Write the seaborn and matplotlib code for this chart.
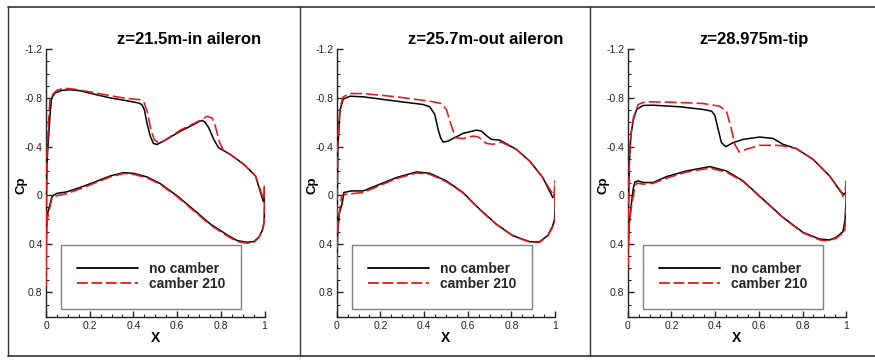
import matplotlib
matplotlib.use("Agg")
import matplotlib.pyplot as plt
import seaborn as sns
import pandas as pd
from matplotlib.lines import Line2D
from matplotlib.patches import Rectangle
from matplotlib.ticker import MultipleLocator, FuncFormatter

# ---------------- data (x/c, Cp), each curve: upper LE->TE, then lower TE->LE ----------------
TITLES = ["z=21.5m-in aileron", "z=25.7m-out aileron", "z=28.975m-tip"]
SERIES = ["no camber", "camber 210"]

P1_NC_X = [0.0, 0.002, 0.004, 0.011, 0.02, 0.026, 0.041, 0.072, 0.11, 0.156, 0.217, 0.294, 0.37, 0.424, 0.439,
           0.45, 0.462, 0.477, 0.492, 0.508, 0.538, 0.615, 0.676, 0.70, 0.715, 0.728, 0.745, 0.768, 0.79, 0.844,
           0.905, 0.959, 0.994, 1.0,
           1.0, 0.998, 0.99, 0.974, 0.951, 0.92, 0.875, 0.829, 0.752, 0.676, 0.6, 0.523, 0.462, 0.4, 0.355, 0.294,
           0.217, 0.156, 0.095, 0.049, 0.035, 0.026, 0.015, 0.006, 0.002, 0.0]
P1_NC_CP = [0.75, 0.0, -0.25, -0.46, -0.7, -0.8, -0.84, -0.862, -0.867, -0.859, -0.832, -0.80, -0.777, -0.758, -0.745,
            -0.704, -0.594, -0.485, -0.425, -0.417, -0.445, -0.526, -0.581, -0.605, -0.615, -0.60, -0.554, -0.458,
            -0.39, -0.335, -0.254, -0.158, 0.05, 0.0,
            0.1, 0.22, 0.29, 0.346, 0.382, 0.387, 0.374, 0.327, 0.237, 0.12, 0.005, -0.095, -0.15, -0.18, -0.185,
            -0.158, -0.104, -0.063, -0.027, -0.014, 0.0, 0.02, 0.1, 0.16, 0.3, 0.75]
P1_C_X = [0.0, 0.002, 0.004, 0.01, 0.018, 0.026, 0.049, 0.08, 0.125, 0.217, 0.294, 0.37, 0.431, 0.45, 0.465, 0.48,
          0.495, 0.515, 0.538, 0.615, 0.706, 0.737, 0.76, 0.775, 0.795, 0.813, 0.844, 0.905, 0.959, 0.997, 1.0,
          1.0, 0.994, 0.974, 0.951, 0.92, 0.875, 0.829, 0.752, 0.676, 0.6, 0.523, 0.462, 0.4, 0.355, 0.294, 0.217,
          0.156, 0.095, 0.049, 0.035, 0.026, 0.015, 0.006, 0.002, 0.0]
P1_C_CP = [0.75, 0.0, -0.3, -0.55, -0.786, -0.82, -0.862, -0.88, -0.873, -0.845, -0.818, -0.796, -0.785, -0.758,
           -0.676, -0.54, -0.458, -0.431, -0.445, -0.535, -0.616, -0.649, -0.635, -0.567, -0.431, -0.363, -0.335,
           -0.254, -0.158, 0.04, -0.09,
           0.2, 0.27, 0.35, 0.388, 0.395, 0.382, 0.335, 0.245, 0.128, 0.012, -0.088, -0.143, -0.172, -0.178, -0.15,
           -0.095, -0.052, -0.012, 0.005, 0.014, 0.035, 0.12, 0.2, 0.35, 0.75]

P2_NC_X = [0.0, 0.002, 0.005, 0.015, 0.03, 0.061, 0.121, 0.274, 0.395, 0.426, 0.449, 0.464, 0.476, 0.487, 0.51,
           0.578, 0.639, 0.662, 0.685, 0.708, 0.746, 0.822, 0.883, 0.943, 0.989, 1.0,
           1.0, 0.997, 0.989, 0.966, 0.928, 0.883, 0.806, 0.73, 0.654, 0.578, 0.502, 0.426, 0.365, 0.274, 0.198,
           0.122, 0.068, 0.033, 0.025, 0.012, 0.004, 0.0]
P2_NC_CP = [0.7, 0.1, -0.38, -0.70, -0.79, -0.814, -0.809, -0.773, -0.746, -0.727, -0.664, -0.541, -0.47, -0.437,
            -0.445, -0.508, -0.535, -0.527, -0.49, -0.459, -0.453, -0.377, -0.281, -0.145, 0.02, -0.01,
            0.1, 0.2, 0.251, 0.333, 0.383, 0.383, 0.333, 0.238, 0.115, -0.022, -0.117, -0.18, -0.191, -0.145, -0.09,
            -0.035, -0.035, -0.022, 0.07, 0.15, 0.3, 0.7]
P2_C_X = [0.0, 0.002, 0.005, 0.015, 0.03, 0.061, 0.121, 0.274, 0.426, 0.479, 0.502, 0.525, 0.545, 0.578, 0.624,
          0.647, 0.685, 0.715, 0.753, 0.822, 0.883, 0.943, 0.985, 0.993, 1.0,
          1.0, 0.997, 0.989, 0.966, 0.928, 0.883, 0.806, 0.73, 0.654, 0.578, 0.502, 0.426, 0.365, 0.274, 0.198,
          0.122, 0.068, 0.033, 0.023, 0.012, 0.004, 0.0]
P2_C_CP = [0.7, 0.0, -0.45, -0.72, -0.809, -0.836, -0.836, -0.809, -0.773, -0.754, -0.705, -0.568, -0.473, -0.465,
           -0.486, -0.48, -0.426, -0.418, -0.437, -0.377, -0.281, -0.145, -0.02, 0.02, -0.117,
           0.2, 0.25, 0.26, 0.337, 0.388, 0.386, 0.335, 0.24, 0.118, -0.018, -0.11, -0.172, -0.182, -0.137, -0.08,
           -0.022, -0.012, -0.005, 0.0, 0.15, 0.3, 0.7]

P3_NC_X = [0.0, 0.003, 0.008, 0.015, 0.026, 0.041, 0.071, 0.117, 0.239, 0.345, 0.384, 0.399, 0.414, 0.429, 0.449,
           0.482, 0.528, 0.604, 0.665, 0.711, 0.772, 0.848, 0.924, 0.977, 0.992, 1.0,
           1.0, 0.997, 0.995, 0.985, 0.954, 0.924, 0.878, 0.802, 0.711, 0.619, 0.528, 0.452, 0.376, 0.269, 0.178,
           0.117, 0.071, 0.048, 0.033, 0.025, 0.015, 0.006, 0.0]
P3_NC_CP = [0.6, 0.1, -0.3, -0.5, -0.623, -0.705, -0.738, -0.74, -0.727, -0.705, -0.691, -0.656, -0.541, -0.432,
            -0.399, -0.432, -0.459, -0.478, -0.467, -0.418, -0.383, -0.295, -0.158, -0.022, -0.008, -0.03,
            0.05, 0.115, 0.2, 0.301, 0.347, 0.369, 0.361, 0.306, 0.183, 0.033, -0.117, -0.199, -0.235, -0.199,
            -0.153, -0.104, -0.104, -0.117, -0.109, -0.05, 0.1, 0.25, 0.6]
P3_C_X = [0.0, 0.003, 0.008, 0.015, 0.026, 0.048, 0.079, 0.193, 0.345, 0.421, 0.452, 0.475, 0.49, 0.51, 0.543,
          0.604, 0.68, 0.711, 0.772, 0.848, 0.924, 0.977, 0.985, 0.995, 1.0,
          1.0, 0.997, 0.993, 0.985, 0.954, 0.924, 0.9, 0.878, 0.802, 0.711, 0.619, 0.528, 0.452, 0.376, 0.269,
          0.178, 0.117, 0.071, 0.04, 0.028, 0.015, 0.006, 0.0]
P3_C_CP = [0.6, 0.1, -0.3, -0.5, -0.636, -0.746, -0.768, -0.765, -0.754, -0.732, -0.691, -0.541, -0.418, -0.355,
           -0.377, -0.41, -0.41, -0.405, -0.383, -0.295, -0.158, -0.03, 0.01, -0.03, -0.117,
           0.1, 0.2, 0.3, 0.31, 0.355, 0.372, 0.375, 0.368, 0.31, 0.186, 0.036, -0.112, -0.19, -0.222, -0.19,
           -0.14, -0.098, -0.09, -0.1, -0.022, 0.12, 0.25, 0.6]

PANELS = [
    (P1_NC_X, P1_NC_CP, P1_C_X, P1_C_CP),
    (P2_NC_X, P2_NC_CP, P2_C_X, P2_C_CP),
    (P3_NC_X, P3_NC_CP, P3_C_X, P3_C_CP),
]

X_TICKS = [0, 0.2, 0.4, 0.6, 0.8, 1]
Y_TICKS = [-1.2, -0.8, -0.4, 0, 0.4, 0.8]

# ---------------- style ----------------
sns.set_theme(style="white")
plt.rcParams["font.family"] = ["Liberation Sans", "DejaVu Sans"]
plt.rcParams["axes.unicode_minus"] = False

W, H = 875, 361
fig = plt.figure(figsize=(W / 100, H / 100), dpi=100)

ax_lefts = [46, 336.7, 627.7]
ax_w = 218.5
ax_top, ax_bot = 49.3, 316.7

RED = "#e3191c"
fmt = FuncFormatter(lambda v, p: f"{v:g}")

for i, (nx, ncp, cx, ccp) in enumerate(PANELS):
    ax = fig.add_axes([ax_lefts[i] / W, 1 - ax_bot / H, ax_w / W, (ax_bot - ax_top) / H])
    df_nc = pd.DataFrame({"x": nx, "Cp": ncp})
    df_c = pd.DataFrame({"x": cx, "Cp": ccp})
    sns.lineplot(data=df_nc, x="x", y="Cp", sort=False, estimator=None, ax=ax,
                 color="black", linewidth=1.1, label=SERIES[0], zorder=3)
    sns.lineplot(data=df_c, x="x", y="Cp", sort=False, estimator=None, ax=ax,
                 color=RED, linewidth=1.15, label=SERIES[1], zorder=4)
    ax.lines[1].set_dashes((7.5, 2.5))

    ax.set_xlim(0, 1)
    ax.set_ylim(1.0, -1.2)
    ax.set_xticks(X_TICKS)
    ax.set_yticks(Y_TICKS)
    ax.xaxis.set_major_formatter(fmt)
    ax.yaxis.set_major_formatter(fmt)
    ax.xaxis.set_minor_locator(MultipleLocator(0.05))
    ax.yaxis.set_minor_locator(MultipleLocator(0.1))
    ax.tick_params(which="both", direction="in", colors="#222222", labelsize=7.5,
                   bottom=True, left=True, top=False, right=False)
    ax.tick_params(which="major", length=4, width=1)
    ax.tick_params(which="minor", length=2.2, width=0.8)
    ax.tick_params(axis="y", pad=2.5)
    ax.tick_params(axis="x", pad=3)
    for s in ["top", "right"]:
        ax.spines[s].set_visible(False)
    for s in ["left", "bottom"]:
        ax.spines[s].set_color("#222222")
        ax.spines[s].set_linewidth(1.0)
    ax.set_facecolor("none")
    ax.grid(False)

    ax.set_xlabel("X", fontsize=10, fontweight="bold", color="black")
    ax.xaxis.set_label_coords(0.5, -0.055)
    ax.set_ylabel("Cp", fontsize=9.5, fontweight="bold", color="black")
    ax.yaxis.set_label_coords(-0.085, 0.49)

    ax.text(0.327, 1.035, TITLES[i], transform=ax.transAxes, ha="left", va="center",
            fontsize=12, fontweight="bold", color="black")

    # legend box and entries
    ax.add_patch(Rectangle((0.069, 0.029), 0.825, 0.239, transform=ax.transAxes,
                           fill=False, edgecolor="#808080", linewidth=1.0, zorder=2, clip_on=False))
    handles = [Line2D([], [], color="black", linewidth=1.3),
               Line2D([], [], color=RED, linewidth=1.3, dashes=(6, 2))]
    ax.legend(handles, SERIES, loc="upper left", bbox_to_anchor=(0.141, 0.205), borderaxespad=0,
              borderpad=0, frameon=False, handlelength=4.4, handletextpad=0.8, labelspacing=0.05,
              prop={"family": "Liberation Sans", "weight": "bold", "size": 10})

# panel frames
lc = "#333333"
y_top, y_bot = 1 - 7 / H, 1 - 355.7 / H
fig.add_artist(Line2D([8.4 / W, 1.0], [y_top, y_top], color=lc, linewidth=1.2))
fig.add_artist(Line2D([8.4 / W, 1.0], [y_bot, y_bot], color=lc, linewidth=1.2))
for xv in [8.4, 300, 590]:
    fig.add_artist(Line2D([xv / W, xv / W], [y_bot, y_top], color=lc, linewidth=1.0))

fig.savefig("out.png", dpi=100)
